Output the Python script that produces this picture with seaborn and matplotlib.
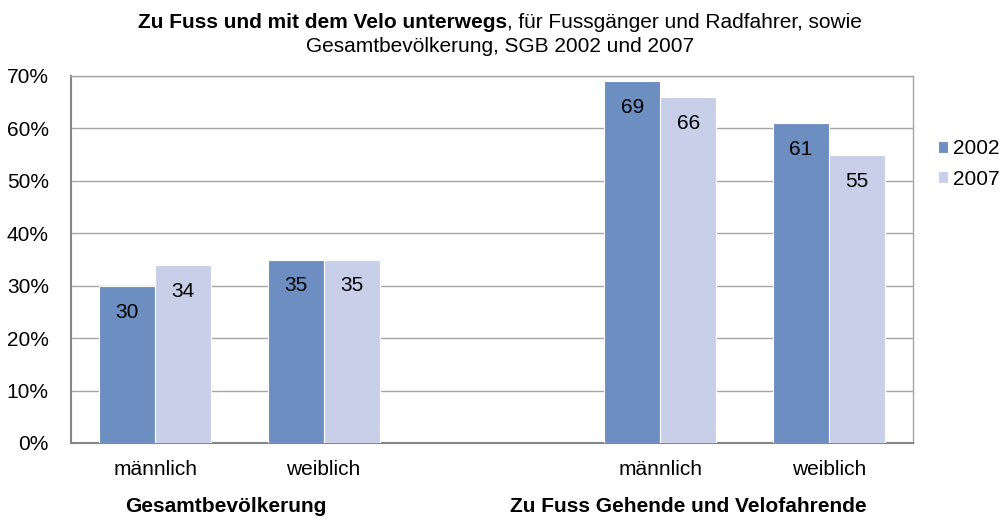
import pandas as pd
import matplotlib
matplotlib.use("Agg")
import matplotlib.pyplot as plt
import seaborn as sns

# data
categories = ["männlich", "weiblich", "", "männlich ", "weiblich "]
years = ["2002", "2007"]
values_2002 = [30, 35, None, 69, 61]
values_2007 = [34, 35, None, 66, 55]
tick_labels = ["männlich", "weiblich", "", "männlich", "weiblich"]
groups = ["Gesamtbevölkerung", "Zu Fuss Gehende und Velofahrende"]

rows = []
for cat, v in zip(categories, values_2002):
    rows.append({"Kategorie": cat, "Jahr": "2002", "Wert": v})
for cat, v in zip(categories, values_2007):
    rows.append({"Kategorie": cat, "Jahr": "2007", "Wert": v})
data = pd.DataFrame(rows)

sns.set_style("white")
plt.rcParams["font.family"] = ["Liberation Sans", "DejaVu Sans"]
plt.rcParams["text.color"] = "black"
plt.rcParams["xtick.color"] = "black"
plt.rcParams["ytick.color"] = "black"

fig = plt.figure(figsize=(10.04, 5.20), dpi=100)
ax = fig.add_axes([71 / 1004, 1 - 443 / 520, 842 / 1004, 367 / 520])

colors = {"2002": "#6d8ec1", "2007": "#c8d0e9"}
sns.barplot(data=data, x="Kategorie", y="Wert", hue="Jahr", order=categories,
            hue_order=years, palette=colors, saturation=1, width=0.665,
            edgecolor="white", linewidth=0.8, errorbar=None, ax=ax, zorder=3)

fs = 15
ax.set_ylim(0, 70)
ax.set_yticks(range(0, 71, 10))
ax.set_yticklabels([f"{t}%" for t in range(0, 71, 10)], fontsize=fs)
ax.set_xticks(range(len(categories)))
ax.set_xticklabels(tick_labels, fontsize=fs)
ax.tick_params(axis="x", length=0, pad=12)
ax.tick_params(axis="y", length=0, pad=16)
ax.set_xlabel("")
ax.set_ylabel("")
ax.grid(axis="y", color="#a6a6a6", linewidth=1, zorder=0)
for side in ["top", "right"]:
    ax.spines[side].set_color("#a6a6a6")
    ax.spines[side].set_linewidth(1)
for side in ["left", "bottom"]:
    ax.spines[side].set_color("#868686")
    ax.spines[side].set_linewidth(1.5)

# value labels inside bars near the top
for p in ax.patches:
    h = p.get_height()
    if h and h > 0:
        ax.annotate(f"{h:.0f}", (p.get_x() + p.get_width() / 2, h),
                    xytext=(0, -19), textcoords="offset points",
                    ha="center", va="center", fontsize=fs, color="black",
                    zorder=5)

leg = ax.legend(loc="upper left", bbox_to_anchor=(1.017, 0.856), frameon=False,
                fontsize=fs, handlelength=0.5, handleheight=0.5,
                handletextpad=0.25, labelspacing=0.55, borderpad=0)

# title: bold part followed by normal part, centred
fig.canvas.draw()
renderer = fig.canvas.get_renderer()
t1 = fig.text(0, 1 - 22 / 520, "Zu Fuss und mit dem Velo unterwegs",
              fontsize=fs, fontweight="bold", va="center", ha="left")
t2 = fig.text(0, 1 - 22 / 520, ", für Fussgänger und Radfahrer, sowie",
              fontsize=fs, va="center", ha="left")
w1 = t1.get_window_extent(renderer).width / fig.bbox.width
w2 = t2.get_window_extent(renderer).width / fig.bbox.width
x0 = 500 / 1004 - (w1 + w2) / 2
t1.set_x(x0)
t2.set_x(x0 + w1)
fig.text(500 / 1004, 1 - 46 / 520, "Gesamtbevölkerung, SGB 2002 und 2007",
         fontsize=fs, ha="center", va="center")

# group labels below the categories
fig.text(226 / 1004, 1 - 507 / 520, groups[0], fontsize=fs,
         fontweight="bold", ha="center", va="center")
fig.text(688 / 1004, 1 - 507 / 520, groups[1], fontsize=fs,
         fontweight="bold", ha="center", va="center")

fig.savefig("out.png", dpi=100)
